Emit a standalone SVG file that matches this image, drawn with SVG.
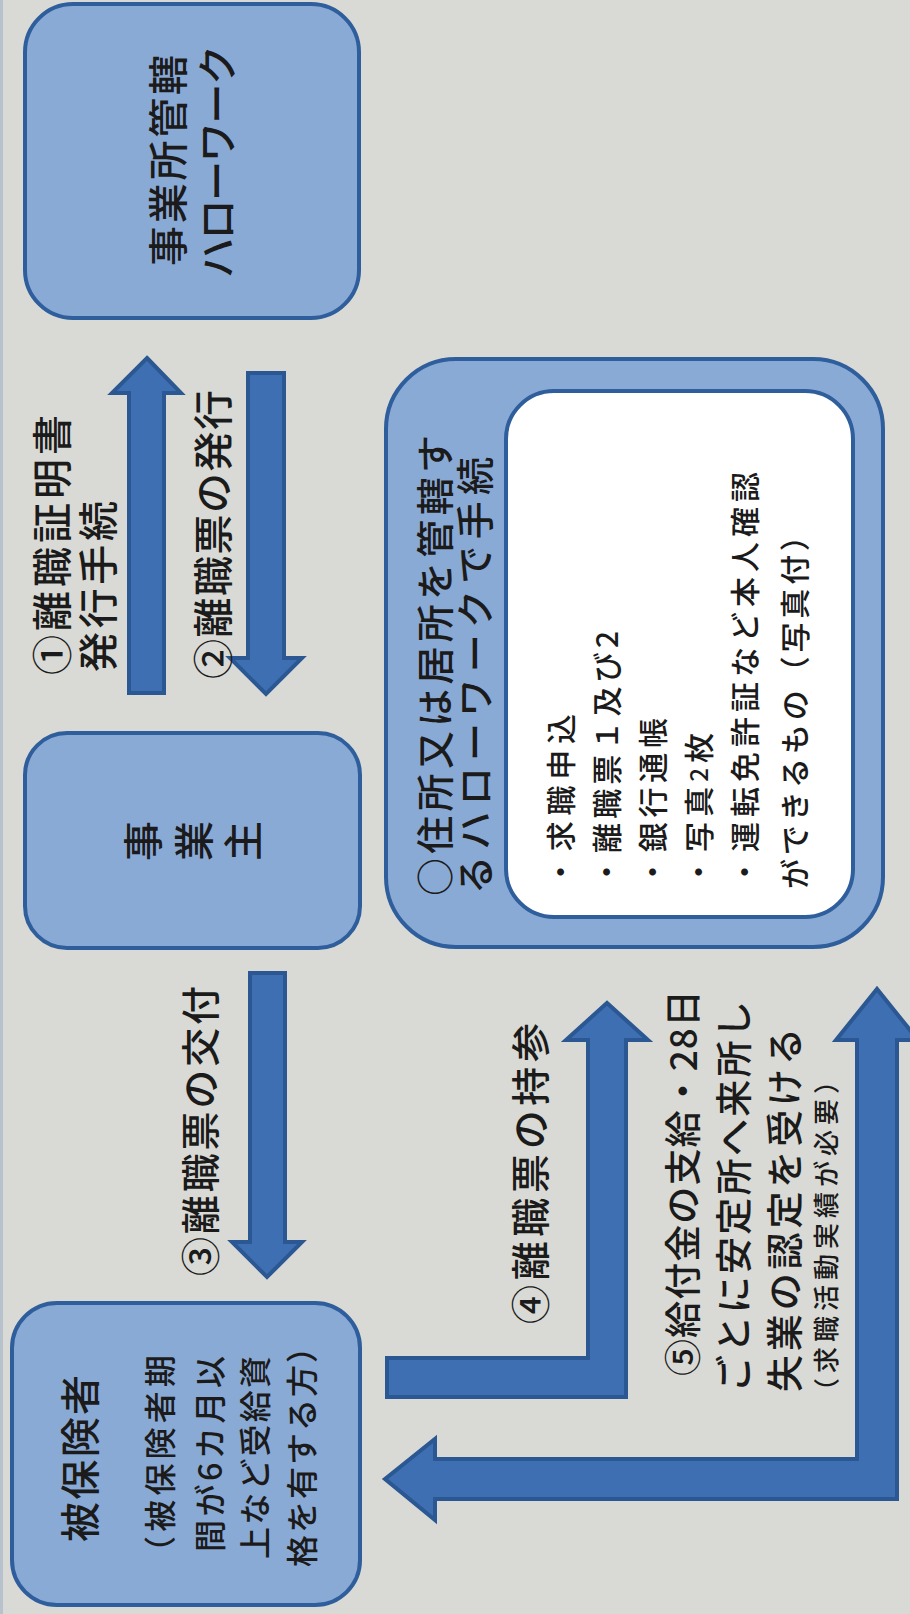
<svg xmlns="http://www.w3.org/2000/svg" width="910" height="1614" viewBox="0 0 910 1614">
<style>
.t{font-family:"Noto Sans CJK JP","Noto Sans",sans-serif;font-weight:500;fill:#1b1b1b;dominant-baseline:central;}
.box{fill:#8aaad6;stroke:#2f5e9d;stroke-width:4;}
.white{fill:#ffffff;stroke:#2f5e9d;stroke-width:4;}
.arrow{fill:#3e6fb2;stroke:#2b5792;stroke-width:4;stroke-linejoin:miter;}
</style>
<rect x="0" y="0" width="910" height="1614" fill="#d9dad5"/>
<rect x="0" y="0" width="3" height="1614" fill="#b8c2cc"/>

<g id="node-jigyosho-hellowork">
<rect class="box" x="25" y="4" width="334" height="314" rx="48" ry="48"/>
<text class="t" font-size="40" transform="translate(166,266) rotate(-90)" textLength="211" lengthAdjust="spacing">事業所管轄</text>
<text class="t" font-size="40" transform="translate(215,278) rotate(-90)" textLength="233" lengthAdjust="spacing">ハローワーク</text>
</g>

<g id="node-jigyonushi">
<rect class="box" x="25" y="733" width="335" height="215" rx="42" ry="42"/>
<text class="t" font-size="40" text-anchor="middle" transform="translate(141,841) rotate(-90)">事</text>
<text class="t" font-size="40" text-anchor="middle" transform="translate(192,841) rotate(-90)">業</text>
<text class="t" font-size="40" text-anchor="middle" transform="translate(241,841) rotate(-90)">主</text>
</g>

<g id="node-hihokensha">
<rect class="box" x="12" y="1303" width="348" height="302" rx="45" ry="45"/>
<text class="t" font-size="40" transform="translate(78,1542) rotate(-90)" textLength="167" lengthAdjust="spacing">被保険者</text>
<text class="t" font-size="32" transform="translate(158,1568) rotate(-90)" textLength="213" lengthAdjust="spacing">（被保険者期</text>
<text class="t" font-size="32" transform="translate(208,1552) rotate(-90)" textLength="196" lengthAdjust="spacing">間が6カ月以</text>
<text class="t" font-size="32" transform="translate(253,1559) rotate(-90)" textLength="203" lengthAdjust="spacing">上など受給資</text>
<text class="t" font-size="32" transform="translate(300,1567) rotate(-90)" textLength="236" lengthAdjust="spacing">格を有する方）</text>
</g>

<g id="node-jusho-hellowork">
<rect class="box" x="386" y="359" width="497" height="588" rx="70" ry="70"/>
<text class="t" font-size="38" transform="translate(432,896) rotate(-90)" textLength="461" lengthAdjust="spacing">○住所又は居所を管轄す</text>
<text class="t" font-size="38" transform="translate(472,894) rotate(-90)" textLength="437" lengthAdjust="spacing">るハローワークで手続</text>
<rect class="white" x="506" y="391" width="347" height="526" rx="48" ry="48"/>
<text class="t" font-size="30" transform="translate(559,887) rotate(-90)" textLength="173" lengthAdjust="spacing">・求職申込</text>
<text class="t" font-size="30" transform="translate(605,887) rotate(-90)" textLength="256" lengthAdjust="spacing">・離職票１及び2</text>
<text class="t" font-size="30" transform="translate(651,887) rotate(-90)" textLength="169" lengthAdjust="spacing">・銀行通帳</text>
<text class="t" font-size="30" transform="translate(697,887) rotate(-90)" textLength="154" lengthAdjust="spacing">・写真<tspan font-size="24">2</tspan>枚</text>
<text class="t" font-size="30" transform="translate(743,887) rotate(-90)" textLength="415" lengthAdjust="spacing">・運転免許証など本人確認</text>
<text class="t" font-size="30" transform="translate(793,889) rotate(-90)" textLength="368" lengthAdjust="spacing">ができるもの（写真付）</text>
</g>

<g id="connectors">
<path id="arrow-1" class="arrow" d="M147,358 L181,393 L164,393 L164,693 L129,693 L129,393 L112,393 Z"/>
<path id="arrow-2" class="arrow" d="M248,373 L284,373 L284,658 L302,658 L266,694 L230,658 L248,658 Z"/>
<path id="arrow-3" class="arrow" d="M250,973 L285,973 L285,1242 L302,1242 L267,1277 L232,1242 L250,1242 Z"/>
<path id="arrow-4" class="arrow" d="M387,1358 L588,1358 L588,1040 L566,1040 L607,1003 L648,1040 L626,1040 L626,1397 L387,1397 Z"/>
<path id="arrow-5" class="arrow" d="M385,1479 L435,1439 L435,1459 L857,1459 L857,1040 L836,1040 L877,989 L918,1040 L897,1040 L897,1499 L435,1499 L435,1520 Z"/>
</g>

<g id="connector-labels">
<text class="t" font-size="40" transform="translate(50,675) rotate(-90)" textLength="260" lengthAdjust="spacing">①離職証明書</text>
<text class="t" font-size="40" transform="translate(96,672) rotate(-90)" textLength="171" lengthAdjust="spacing">発行手続</text>
<text class="t" font-size="40" transform="translate(211,679) rotate(-90)" textLength="289" lengthAdjust="spacing">②離職票の発行</text>
<text class="t" font-size="39" transform="translate(198,1276) rotate(-90)" textLength="290" lengthAdjust="spacing">③離職票の交付</text>
<text class="t" font-size="39" transform="translate(528,1324) rotate(-90)" textLength="301" lengthAdjust="spacing">④離職票の持参</text>
<text class="t" font-size="37" transform="translate(681,1376) rotate(-90)" textLength="386" lengthAdjust="spacing">⑤給付金の支給・28日</text>
<text class="t" font-size="37" transform="translate(732,1392) rotate(-90)" textLength="391" lengthAdjust="spacing">ごとに安定所へ来所し</text>
<text class="t" font-size="37" transform="translate(783,1392) rotate(-90)" textLength="364" lengthAdjust="spacing">失業の認定を受ける</text>
<text class="t" font-size="26" transform="translate(824,1404) rotate(-90)" textLength="336" lengthAdjust="spacing">（求職活動実績が必要）</text>
</g>
</svg>
